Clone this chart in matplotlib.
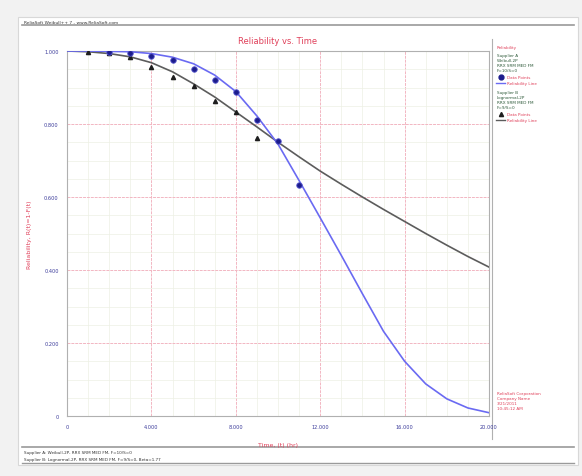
import numpy as np
import matplotlib
matplotlib.use('Agg')
import matplotlib.pyplot as plt
from matplotlib.patches import Rectangle
from matplotlib.lines import Line2D
from matplotlib.ticker import MultipleLocator, FixedLocator

# Supplier A data points (time in hr, reliability)
time_a = [2000, 3000, 4000, 5000, 6000, 7000, 8000, 9000, 10000, 11000]
rel_a = [0.996, 0.994, 0.987, 0.975, 0.952, 0.920, 0.889, 0.810, 0.754, 0.632]

# Supplier B data points
time_b = [1000, 2000, 3000, 4000, 5000, 6000, 7000, 8000, 9000]
rel_b = [0.996, 0.995, 0.983, 0.957, 0.929, 0.905, 0.862, 0.833, 0.761]

# reliability lines
line_t = [0, 1000, 2000, 3000, 4000, 5000, 6000, 7000, 8000, 9000, 10000,
          11000, 12000, 13000, 14000, 15000, 16000, 17000, 18000, 19000, 20000]
line_a = [1.0, 1.0, 0.999, 0.998, 0.993, 0.983, 0.965, 0.934, 0.889, 0.822, 0.745,
          0.645, 0.543, 0.440, 0.335, 0.232, 0.150, 0.088, 0.047, 0.022, 0.009]
line_b = [1.0, 0.998, 0.993, 0.984, 0.968, 0.943, 0.910, 0.874, 0.833, 0.792, 0.750,
          0.710, 0.671, 0.635, 0.600, 0.566, 0.533, 0.500, 0.468, 0.437, 0.408]

x_ticks = [0, 4000, 8000, 12000, 16000, 20000]
x_labels = ['0', '4.000', '8.000', '12.000', '16.000', '20.000']
y_ticks = [0, 0.2, 0.4, 0.6, 0.8, 1.0]
y_labels = ['0', '0.200', '0.400', '0.600', '0.800', '1.000']

RED = '#e0405a'
NAVY = '#3a3a9a'
GREEN = '#2e5a3a'

fig = plt.figure(figsize=(5.82, 4.77), dpi=100)
fig.patch.set_facecolor('#f2f2f2')

W, H = 582.0, 477.0


def fx(px):
    return px / W


def fy(py):
    return 1 - py / H


# white panel and header / footer bars
fig.patches.append(Rectangle((fx(18), fy(466)), fx(560), 448 / H, transform=fig.transFigure,
                             facecolor='white', edgecolor='#d8d8d8', lw=0.8, zorder=-5))
fig.add_artist(Line2D([fx(22), fx(574)], [fy(26), fy(26)], color='#9a9a9a', lw=1.2))
fig.add_artist(Line2D([fx(22), fx(574)], [fy(448), fy(448)], color='#9a9a9a', lw=1.2))
fig.add_artist(Line2D([fx(22), fx(574)], [fy(464), fy(464)], color='#9a9a9a', lw=1.0))
fig.text(fx(24), fy(23), 'ReliaSoft Weibull++ 7 - www.ReliaSoft.com', fontsize=3.2,
         color='#333333', va='center')
fig.text(fx(24), fy(453), 'Supplier A: Weibull-2P, RRX SRM MED FM, F=10/S=0', fontsize=3.0,
         color='#333333', va='center')
fig.text(fx(24), fy(460), 'Supplier B: Lognormal-2P, RRX SRM MED FM, F=9/S=0, Beta=1.77', fontsize=3.0,
         color='#333333', va='center')

ax = fig.add_axes([fx(67), fy(417), fx(489 - 67), (417 - 52) / H])
ax.set_zorder(2)

ax.plot(line_t, line_b, color='#5c5c5c', lw=1.2, zorder=3)
ax.plot(line_t, line_a, color='#6a6af2', lw=1.2, zorder=3)
ax.plot(time_b, rel_b, linestyle='none', marker='^', ms=3.0, color='#1e1e1e', zorder=4)
ax.plot(time_a, rel_a, linestyle='none', marker='o', ms=4.0, color='#1c1c8c',
        mec='#5a5ad0', mew=0.6, zorder=5)

ax.set_xlim(0, 20000)
ax.set_ylim(0, 1.0)
ax.xaxis.set_major_locator(FixedLocator(x_ticks))
ax.yaxis.set_major_locator(FixedLocator(y_ticks))
ax.set_xticklabels(x_labels)
ax.set_yticklabels(y_labels)
ax.xaxis.set_minor_locator(MultipleLocator(1000))
ax.yaxis.set_minor_locator(MultipleLocator(0.05))
ax.tick_params(which='both', length=0, labelsize=3.6, labelcolor=NAVY, pad=6)
ax.grid(which='major', color='#f2b6c2', lw=0.7, ls='--', dashes=(3, 1))
ax.grid(which='minor', color='#edf0e4', lw=0.5)
ax.set_axisbelow(True)
for s in ax.spines.values():
    s.set_color('#b0b0b0')
    s.set_linewidth(0.8)

ax.set_title('Reliability vs. Time', color=RED, fontsize=6, pad=6)
ax.set_xlabel('Time, (t) (hr)', color=RED, fontsize=4.5, labelpad=9)
ax.set_ylabel('Reliability, R(t)=1-F(t)', color=RED, fontsize=4.5, labelpad=9)

# legend panel on the right
fig.add_artist(Line2D([fx(492), fx(492)], [fy(40), fy(440)], color='#b0b0b0', lw=0.8))
legend_rows = [
    (48, 'Reliability', RED, None),
    (56, 'Supplier A', GREEN, None),
    (61, 'Weibull-2P', GREEN, None),
    (66, 'RRX SRM MED FM', GREEN, None),
    (71, 'F=10/S=0', GREEN, None),
    (78, 'Data Points', RED, 'a_pt'),
    (84, 'Reliability Line', RED, 'a_ln'),
    (93, 'Supplier B', GREEN, None),
    (98, 'Lognormal-2P', GREEN, None),
    (103, 'RRX SRM MED FM', GREEN, None),
    (108, 'F=9/S=0', GREEN, None),
    (115, 'Data Points', RED, 'b_pt'),
    (121, 'Reliability Line', RED, 'b_ln'),
]
for py, txt, col, sym in legend_rows:
    xt = 497 if sym is None else 507
    fig.text(fx(xt), fy(py), txt, fontsize=3.0, color=col, va='center')
    if sym == 'a_pt':
        fig.add_artist(Line2D([fx(501)], [fy(py)], marker='o', ms=3.5, color='#1c1c8c'))
    elif sym == 'b_pt':
        fig.add_artist(Line2D([fx(501)], [fy(py)], marker='^', ms=3.0, color='#1e1e1e'))
    elif sym == 'a_ln':
        fig.add_artist(Line2D([fx(496), fx(505)], [fy(py), fy(py)], color='#6a6af2', lw=1.0))
    elif sym == 'b_ln':
        fig.add_artist(Line2D([fx(496), fx(505)], [fy(py), fy(py)], color='#5c5c5c', lw=1.0))

for py, txt in [(394, 'ReliaSoft Corporation'), (399, 'Company Name'),
                (404, '3/21/2011'), (409, '10:45:12 AM')]:
    fig.text(fx(497), fy(py), txt, fontsize=3.0, color=RED, va='center')

plt.savefig('out.png', dpi=100)
